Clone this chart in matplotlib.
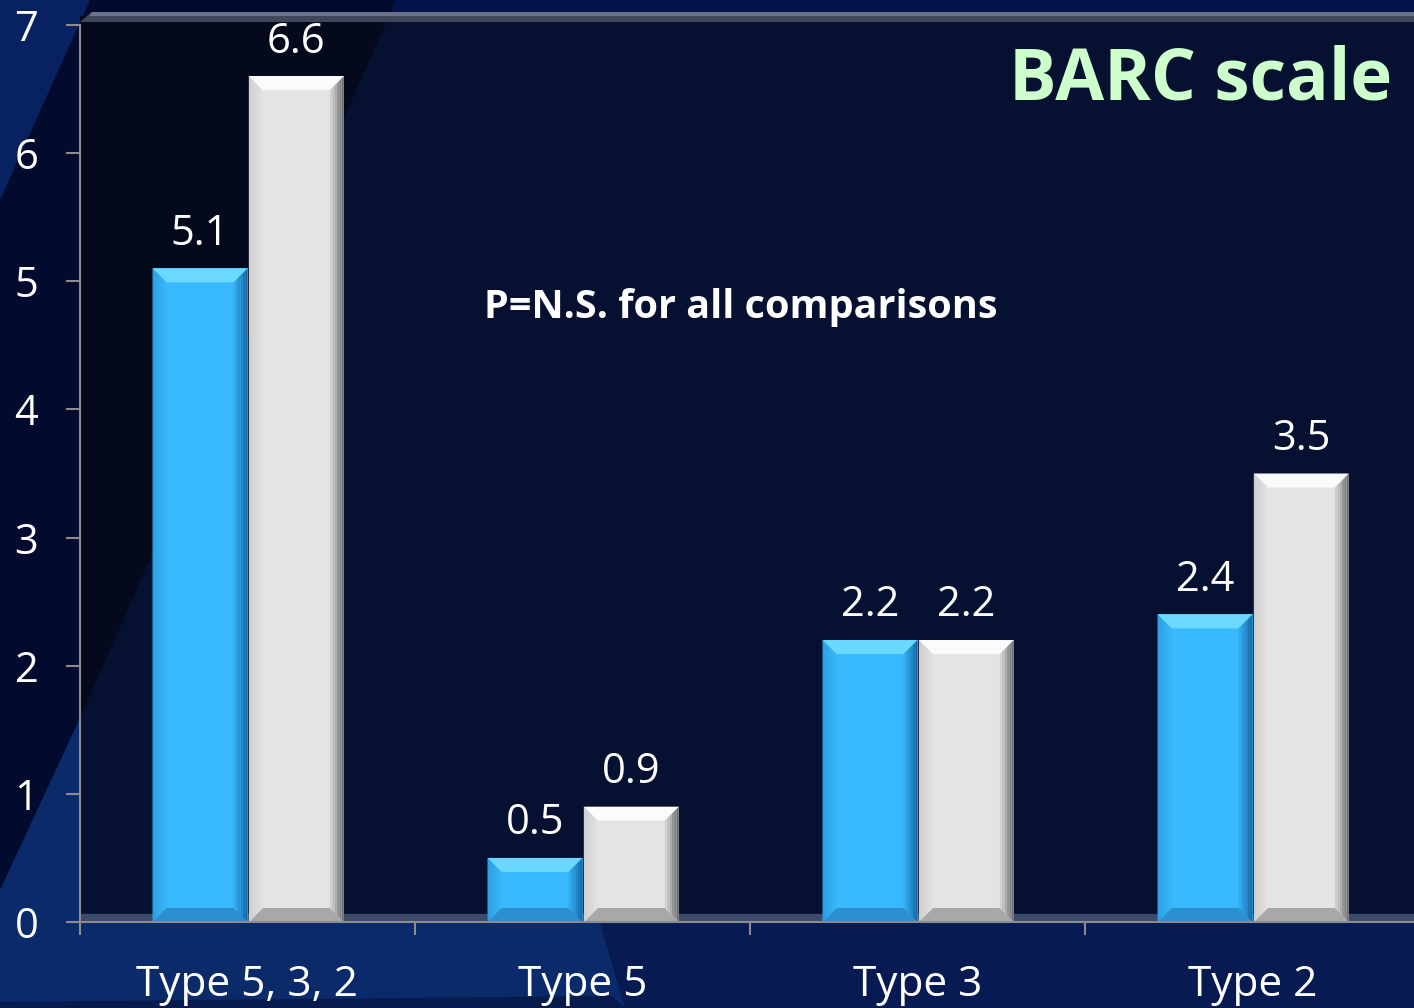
import numpy as np
import matplotlib.pyplot as plt
from matplotlib.patches import Polygon, Rectangle
from matplotlib.colors import to_rgb

categories = ['Type 5, 3, 2', 'Type 5', 'Type 3', 'Type 2']
blue_vals = [5.1, 0.5, 2.2, 2.4]
gray_vals = [6.6, 0.9, 2.2, 3.5]
y_ticks = [0, 1, 2, 3, 4, 5, 6, 7]

W, H = 1414, 1008
plt.rcParams['font.family'] = ['Open Sans', 'DejaVu Sans']

fig = plt.figure(figsize=(W / 100, H / 100), dpi=100, facecolor='#04134a')

# background drawn in pixel coordinates
bg = fig.add_axes([0, 0, 1, 1], zorder=-5)
bg.set_xlim(0, W)
bg.set_ylim(H, 0)
bg.axis('off')

def bgpoly(pts, color, alpha=1.0):
    bg.add_patch(Polygon(pts, closed=True, facecolor=color, edgecolor='none', alpha=alpha))

# streak: dark to the upper left of a diagonal, lighter below it
bgpoly([(0, 0), (396, 0), (0, 900)], '#020b2e')
bgpoly([(0, 0), (90, 0), (0, 200)], '#0b2d78', 0.7)
bgpoly([(0, 890), (80, 718), (80, 1008), (0, 1008)], '#0a2a6a')
bgpoly([(0, 922), (600, 922), (625, 1008), (0, 1008)], '#0a2a6a')
bgpoly([(0, 1002), (612, 996), (625, 1008), (0, 1008)], '#061a4c')
bgpoly([(600, 922), (1414, 922), (1414, 1008), (625, 1008)], '#071b52')

# chart wall and top rim
bg.add_patch(Rectangle((80, 16), W - 80, 906, facecolor='#061031', edgecolor='none'))
bgpoly([(80, 16), (389, 16), (80, 718)], '#040a1c')
bgpoly([(80, 22), (92, 12), (W, 12), (W, 22)], '#40475a')
bgpoly([(92, 12), (W, 12), (W, 16), (89, 16)], '#6c7388')

ax = fig.add_axes([80 / W, 86 / H, 1340 / W, 897 / H])
ax.set_facecolor('none')
ax.set_xlim(-0.5, 3.5)
ax.set_ylim(0, 7)

# floor strip
ax.axhspan(0, 8 / 128.1, color='#3c4a6c', zorder=1)

fig.canvas.draw()
bb = ax.get_window_extent()
bx = 14 / (bb.width / 4.0)
by = 14 / (bb.height / 7.0)

def mix(c1, c2, t):
    a, b = np.array(to_rgb(c1)), np.array(to_rgb(c2))
    return tuple(a + (b - a) * t)

def bevel_bar(x0, w, h, base, top, left, right, bottom):
    ax.add_patch(Rectangle((x0, 0), w, h, facecolor=base, edgecolor='none', zorder=3))
    bh = min(by, h / 2)
    ax.add_patch(Polygon([(x0, h), (x0 + w, h), (x0 + w - bx, h - bh), (x0 + bx, h - bh)],
                         facecolor=top, edgecolor='none', zorder=4))
    ax.add_patch(Polygon([(x0, 0), (x0 + w, 0), (x0 + w - bx, bh), (x0 + bx, bh)],
                         facecolor=bottom, edgecolor='none', zorder=4))
    n = 6
    for k in range(n):
        t0, t1 = k / n, (k + 1) / n
        # left side: edge colour fading into base
        ax.add_patch(Polygon([(x0 + bx * t0, h - bh * t0), (x0 + bx * t1, h - bh * t1),
                              (x0 + bx * t1, bh * t1), (x0 + bx * t0, bh * t0)],
                             facecolor=mix(left, base, t0), edgecolor='none', zorder=4))
        # right side: base darkening toward edge
        ax.add_patch(Polygon([(x0 + w - bx * t1, h - bh * t1), (x0 + w - bx * t0, h - bh * t0),
                              (x0 + w - bx * t0, bh * t0), (x0 + w - bx * t1, bh * t1)],
                             facecolor=mix(right, base, t0), edgecolor='none', zorder=4))

bw = 95 / 335
x = np.arange(len(categories))
for i in range(len(categories)):
    bevel_bar(x[i] - bw, bw, blue_vals[i], '#38b8fd', '#6ad8ff', '#2c9fe0', '#176aa6', '#2b8fd0')
    bevel_bar(x[i] + 0.004, bw, gray_vals[i], '#e4e4e4', '#fbfbfb', '#cfcfcf', '#6e6e6e', '#a8a8a8')
    ax.annotate(f'{blue_vals[i]:.1f}', (x[i] - bw / 2, blue_vals[i]), xytext=(0, 17),
                textcoords='offset points', ha='center', va='baseline', fontsize=30, color='white')
    ax.annotate(f'{gray_vals[i]:.1f}', (x[i] + 0.004 + bw / 2, gray_vals[i]), xytext=(0, 17),
                textcoords='offset points', ha='center', va='baseline', fontsize=30, color='white')

for s in ['top', 'right']:
    ax.spines[s].set_visible(False)
for s in ['left', 'bottom']:
    ax.spines[s].set_color('#8c8c8c')
    ax.spines[s].set_linewidth(1.5)
    ax.spines[s].set_zorder(5)

ax.set_yticks(y_ticks)
ax.tick_params(axis='y', length=10, width=1.5, color='#8c8c8c', labelsize=30,
               labelcolor='white', pad=20)
ax.set_xticks(np.arange(-0.5, 4, 1.0))
ax.set_xticklabels([])
ax.set_xticks(x, minor=True)
ax.set_xticklabels(categories, minor=True)
ax.tick_params(axis='x', which='major', length=9.5, width=1.5, color='#8c8c8c')
ax.tick_params(axis='x', which='minor', length=0, labelsize=30.5, labelcolor='white', pad=30)

fig.text(1392 / W, 1 - 100 / H, 'BARC scale', ha='right', va='baseline',
         fontsize=51, fontweight='bold', color='#ccffcc')
fig.text(484 / W, 1 - 318 / H, 'P=N.S. for all comparisons', ha='left', va='baseline',
         fontsize=28.5, fontweight='bold', color='white')

fig.savefig('out.png', dpi=100, facecolor=fig.get_facecolor())
